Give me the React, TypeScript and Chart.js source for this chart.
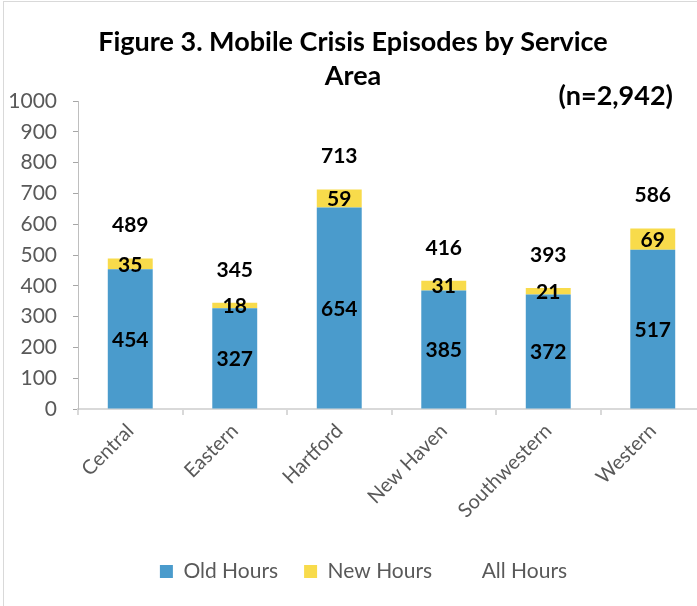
import React, { useEffect, useRef } from "react";
import { Chart, registerables } from "chart.js";

Chart.register(...registerables);

const categories = ["Central", "Eastern", "Hartford", "New Haven", "Southwestern", "Western"];
const oldHours = [454, 327, 654, 385, 372, 517];
const newHours = [35, 18, 59, 31, 21, 69];
const allHours = [489, 345, 713, 416, 393, 586];
const yTicks = [0, 100, 200, 300, 400, 500, 600, 700, 800, 900, 1000];
const titleLines = ["Figure 3. Mobile Crisis Episodes by Service", "Area"];
const nLabel = "(n=2,942)";

const FONT = "Lato, 'Open Sans', sans-serif";
const BLUE = "#4A9BCC";
const YELLOW = "#F8DB4B";
const GREY = "#595959";

const W = 712;
const H = 606;

const labelPlugin = {
  id: "customLabels",
  afterLayout(chart: any) {
    if (chart.legend) {
      chart.legend.left += 11;
      chart.legend.right += 11;
    }
  },
  afterDatasetsDraw(chart: any) {
    const ctx = chart.ctx;
    ctx.save();
    ctx.fillStyle = "#000";
    ctx.font = `bold 21px ${FONT}`;
    ctx.textAlign = "center";
    ctx.textBaseline = "middle";
    [0, 1].forEach((di) => {
      const meta = chart.getDatasetMeta(di);
      meta.data.forEach((el: any, i: number) => {
        const p = el.getProps(["x", "y", "base"], true);
        ctx.fillText(String(chart.data.datasets[di].data[i]), p.x, (p.y + p.base) / 2 + 1);
      });
    });
    const meta2 = chart.getDatasetMeta(2);
    meta2.data.forEach((el: any, i: number) => {
      const p = el.getProps(["x", "y"], true);
      ctx.fillText(String(allHours[i]), p.x, p.y - 33);
    });
    ctx.restore();
  },
  afterDraw(chart: any) {
    const ctx = chart.ctx;
    ctx.save();
    ctx.fillStyle = "#000";
    ctx.textBaseline = "middle";
    ctx.textAlign = "center";
    ctx.font = `bold 27px ${FONT}`;
    ctx.fillText(titleLines[0], 353, 42);
    ctx.fillText(titleLines[1], 353, 76);
    ctx.font = `bold 27px ${FONT}`;
    ctx.textAlign = "right";
    ctx.fillText(nLabel, 673, 96);
    ctx.strokeStyle = "#D9D9D9";
    ctx.lineWidth = 1;
    ctx.strokeRect(3.5, 1.5, W + 20, H + 20);
    ctx.restore();
  },
};

export default function App() {
  const ref = useRef<HTMLCanvasElement>(null);
  useEffect(() => {
    document.body.style.margin = "0";
    const chart = new Chart(ref.current!, {
      type: "bar",
      data: {
        labels: categories,
        datasets: [
          { label: "Old Hours", data: oldHours, backgroundColor: BLUE, stack: "s" },
          { label: "New Hours", data: newHours, backgroundColor: YELLOW, stack: "s" },
          {
            type: "line",
            label: "All Hours",
            data: allHours,
            showLine: false,
            pointRadius: 0,
            backgroundColor: "rgba(0,0,0,0)",
            borderColor: "rgba(0,0,0,0)",
          } as any,
        ],
      },
      options: {
        responsive: false,
        animation: false,
        layout: { padding: { top: 101, right: 7, left: 0, bottom: 14 } },
        datasets: { bar: { categoryPercentage: 1, barPercentage: 0.43 } },
        scales: {
          x: {
            stacked: true,
            offset: true,
            grid: { display: true, drawOnChartArea: false, offset: true, tickLength: 6, color: "#D9D9D9", tickColor: "#D9D9D9", lineWidth: 2 },
            border: { color: "#D9D9D9", width: 2 },
            ticks: { color: GREY, font: { family: FONT, size: 20 }, minRotation: 45, maxRotation: 45, autoSkip: false, padding: 4 },
            afterFit: (s: any) => { s.height = 126; },
          },
          y: {
            stacked: true,
            min: 0,
            max: 1000,
            afterBuildTicks: (s: any) => { s.ticks = yTicks.map((v) => ({ value: v })); },
            grid: { display: true, drawOnChartArea: false, tickLength: 5, color: "#BFBFBF", tickColor: "#A6A6A6" },
            border: { color: "#BFBFBF", width: 1 },
            ticks: { color: GREY, font: { family: FONT, size: 21 }, padding: 16, callback: (v: any) => String(v) },
            afterFit: (s: any) => { s.width = 78; },
          },
        },
        plugins: {
          title: { display: false },
          tooltip: { enabled: false },
          legend: {
            position: "bottom",
            labels: { color: GREY, font: { family: FONT, size: 21 }, boxWidth: 13, boxHeight: 13, padding: 26 },
          },
        },
      },
      plugins: [labelPlugin],
    });
    return () => chart.destroy();
  }, []);
  return (
    <div style={{ position: "fixed", left: 0, top: 0, width: 697, height: 606, overflow: "hidden", background: "#fff" }}>
      <canvas ref={ref} width={W} height={H} style={{ display: "block" }} />
    </div>
  );
}
